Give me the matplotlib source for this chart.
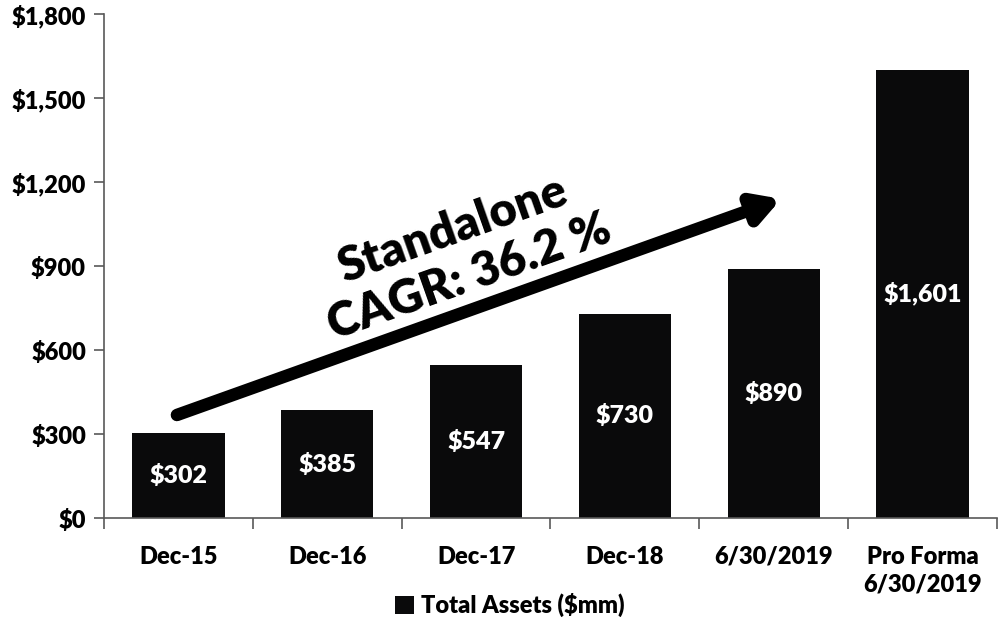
import matplotlib
matplotlib.use("Agg")
import matplotlib.pyplot as plt
import numpy as np

categories = ["Dec-15", "Dec-16", "Dec-17", "Dec-18", "6/30/2019", "Pro Forma\n6/30/2019"]
total_assets = [302, 385, 547, 730, 890, 1601]
y_ticks = [0, 300, 600, 900, 1200, 1500, 1800]
series_name = "Total Assets ($mm)"
cagr_text = "Standalone\nCAGR: 36.2 %"

plt.rcParams["font.family"] = ["Lato", "DejaVu Sans"]
plt.rcParams["font.weight"] = "bold"

fig = plt.figure(figsize=(10, 6.26), dpi=100)
ax = fig.add_axes([0.104, 0.1725, 0.893, 0.805])

x = np.arange(len(categories))
bars = ax.bar(x, total_assets, width=0.62, color="#0a0a0b", label=series_name, zorder=2)

# value labels in the middle of each bar
for xi, v in zip(x, total_assets):
    ax.text(xi, v / 2, "${:,}".format(v), color="white", ha="center", va="center",
            fontsize=18, fontweight="heavy")

ax.set_xlim(-0.5, len(categories) - 0.5)
ax.set_ylim(0, 1800)
ax.set_yticks(y_ticks)
ax.set_yticklabels(["${:,}".format(t) for t in y_ticks], fontsize=17, fontweight="heavy")

# category labels centred, ticks at boundaries
ax.set_xticks(x)
ax.set_xticklabels(categories, fontsize=17, fontweight="heavy", linespacing=1.3)
ax.tick_params(axis="x", which="major", length=0, pad=20)
ax.set_xticks(np.arange(len(categories) + 1) - 0.5, minor=True)
ax.tick_params(axis="x", which="minor", length=8, width=1.2, color="#595959", direction="out")
ax.tick_params(axis="y", length=7, width=1.2, color="#595959", pad=6)

for s in ["top", "right"]:
    ax.spines[s].set_visible(False)
for s in ["left", "bottom"]:
    ax.spines[s].set_color("#595959")
    ax.spines[s].set_linewidth(1.2)

# growth arrow
ax.annotate("", xy=(4.05, 1140), xytext=(-0.01, 368),
            arrowprops=dict(arrowstyle="-|>,head_length=1.5,head_width=0.85",
                            lw=9, color="black", shrinkA=0, shrinkB=0), zorder=3)
ax.text(1.9, 945, cagr_text, rotation=19.5, ha="center", va="center",
        fontsize=34, fontweight="heavy", linespacing=1.2, rotation_mode="anchor")

fig.legend(handles=[bars], labels=[series_name], loc="center", bbox_to_anchor=(0.51, 0.033),
           frameon=False, handlelength=0.8, handleheight=0.8, handletextpad=0.3,
           prop={"weight": "heavy", "size": 17})

fig.savefig("out.png", dpi=100)
